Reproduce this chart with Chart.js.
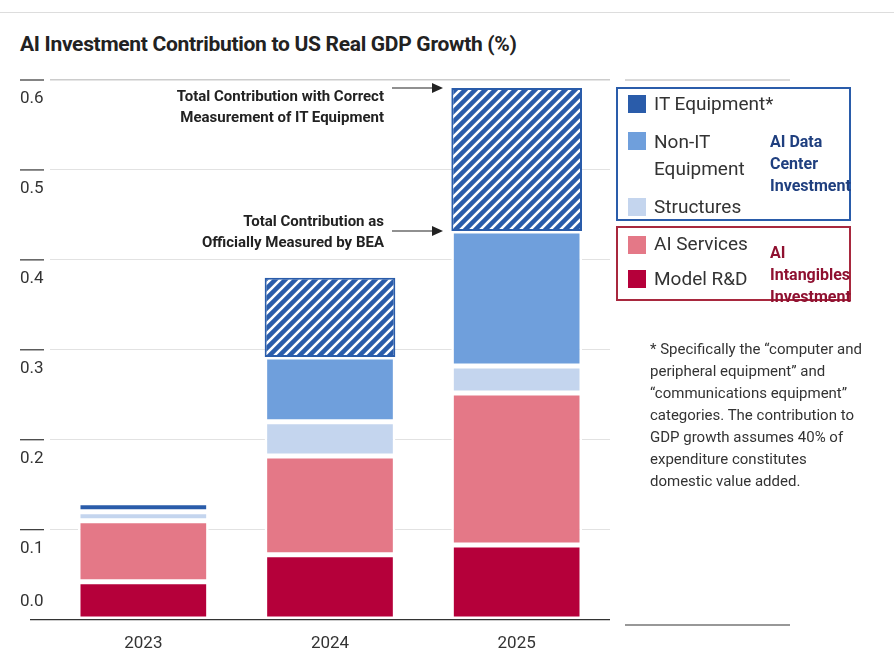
<!DOCTYPE html>
<html>
<head>
<meta charset="utf-8">
<script src="https://cdn.jsdelivr.net/npm/chart.js@4.4.1/dist/chart.umd.min.js"></script>
<style>
  body { margin: 0; background: #fff; font-family: 'Liberation Sans Narrow', Roboto, sans-serif; color: #222; }
  #wrap { position: relative; width: 894px; height: 660px; }
  #topline { position: absolute; left: 0; top: 12px; width: 894px; height: 1px; background: #ddd; }
  h1 { position: absolute; left: 20px; top: 32px; margin: 0; font-size: 21px; font-weight: bold; letter-spacing: -0.3px; }
  #chartBox { position: absolute; left: 0; top: 60px; width: 620px; height: 600px; }
  .note { position: absolute; font-size: 15px; font-weight: bold; text-align: right; line-height: 21px; }
  .leg { position: absolute; left: 616px; width: 235px; box-sizing: border-box; border: 2px solid #2a5caa; }
  .item { position: absolute; left: 10px; font-size: 19px; color: #333; line-height: 27px; }
  .sw { position: absolute; left: 10px; width: 18px; height: 18px; }
  .grp { position: absolute; left: 152px; font-size: 16px; font-weight: bold; line-height: 22px; }
  #foot { position: absolute; left: 650px; top: 338px; width: 220px; font-size: 15px; line-height: 22px; color: #333; }
  svg { position: absolute; left: 0; top: 0; }
</style>
</head>
<body>
<div id="wrap">
  <div id="topline"></div>
  <h1>AI Investment Contribution to US Real GDP Growth (%)</h1>
  <div id="chartBox"><canvas id="c"></canvas></div>
  <div class="note" style="right:510px; top:86px;">Total Contribution with Correct<br>Measurement of IT Equipment</div>
  <div class="note" style="right:510px; top:211px;">Total Contribution as<br>Officially Measured by BEA</div>
  <svg width="894" height="660">
    <line x1="625" y1="80" x2="790" y2="80" stroke="#ccc" stroke-width="1.5"/>
    <line x1="625" y1="625" x2="790" y2="625" stroke="#333" stroke-width="1.2"/>
    <polyline points="392,88 432,88" stroke="#222" fill="none" stroke-width="1.2"/>
    <polygon points="443,88 432,83 432,93" fill="#222"/>
    <polyline points="392,231 432,231" stroke="#222" fill="none" stroke-width="1.2"/>
    <polygon points="443,231 432,226 432,236" fill="#222"/>
  </svg>
  <div class="leg" style="top:87px; height:134px;">
    <div class="sw" style="top:6px; background:#2a5caa"></div><div class="item" style="left:36px; top:1px;">IT Equipment*</div>
    <div class="sw" style="top:43px; background:#6f9fdc"></div><div class="item" style="left:36px; top:39px;">Non-IT<br>Equipment</div>
    <div class="sw" style="top:109px; background:#c4d5ee"></div><div class="item" style="left:36px; top:104px;">Structures</div>
    <div class="grp" style="top:42px; color:#1f3f7f">AI Data Center<br>Investment</div>
  </div>
  <div class="leg" style="top:226px; height:75px; border-color:#a8283e;">
    <div class="sw" style="top:8px; background:#e47887"></div><div class="item" style="left:36px; top:2px;">AI Services</div>
    <div class="sw" style="top:42px; background:#b5003a"></div><div class="item" style="left:36px; top:37px;">Model R&amp;D</div>
    <div class="grp" style="top:14px; color:#8f1030">AI Intangibles<br>Investment</div>
  </div>
  <div id="foot">* Specifically the “computer and peripheral equipment” and “communications equipment” categories. The contribution to GDP growth assumes 40% of expenditure constitutes domestic value added.</div>
</div>
<script>
const years = ['2023', '2024', '2025'];
const modelRD = [0.042, 0.072, 0.083];
const aiServices = [0.068, 0.110, 0.169];
const structures = [0.010, 0.038, 0.030];
const nonIT = [0.000, 0.072, 0.150];
const itEquipment = [0.010, 0.088, 0.159];
const yTicks = [0, 0.1, 0.2, 0.3, 0.4, 0.5, 0.6];

// hatched fill for IT equipment (only where correctly measured)
function hatch() {
  const p = document.createElement('canvas');
  p.width = 10; p.height = 10;
  const g = p.getContext('2d');
  g.fillStyle = '#2a5caa';
  g.fillRect(0, 0, 10, 10);
  g.strokeStyle = '#fff';
  g.lineWidth = 2.6;
  g.beginPath();
  g.moveTo(-2, 12); g.lineTo(12, -2);
  g.moveTo(-7, 7); g.lineTo(7, -7);
  g.moveTo(3, 17); g.lineTo(17, 3);
  g.stroke();
  return g.createPattern(p, 'repeat');
}
const hatchFill = hatch();

const ds = (label, data, color) => ({
  label, data, backgroundColor: color, borderColor: '#fff', borderWidth: 2.5,
  borderSkipped: false, barPercentage: 0.7, categoryPercentage: 1
});
const itSet = ds('IT Equipment', itEquipment, itEquipment.map((v, i) => i === 0 ? '#2a5caa' : hatchFill));
itSet.borderColor = itEquipment.map((v, i) => i === 0 ? '#fff' : '#2a5caa');
itSet.borderWidth = itEquipment.map((v, i) => i === 0 ? 2.5 : 2);

const yLabels = {
  id: 'yLabels',
  afterDraw(chart) {
    const { ctx, scales: { y }, chartArea } = chart;
    ctx.save();
    ctx.font = '17px "Liberation Sans Narrow", Roboto, sans-serif';
    ctx.fillStyle = '#333';
    ctx.textBaseline = 'middle';
    ctx.strokeStyle = '#333';
    ctx.lineWidth = 1.2;
    yTicks.forEach(v => {
      const py = y.getPixelForValue(v);
      if (v > 0) {
        ctx.beginPath(); ctx.moveTo(20, py); ctx.lineTo(44, py); ctx.stroke();
      }
      ctx.fillText(v.toFixed(1), 20, v === 0 ? py - 18 : py + 19);
    });
    ctx.beginPath(); ctx.moveTo(30, y.getPixelForValue(0)); ctx.lineTo(chartArea.right, y.getPixelForValue(0)); ctx.stroke();
    ctx.restore();
  }
};

new Chart(document.getElementById('c'), {
  type: 'bar',
  data: {
    labels: years,
    datasets: [
      ds('Model R&D', modelRD, '#b5003a'),
      ds('AI Services', aiServices, '#e47887'),
      ds('Structures', structures, '#c4d5ee'),
      ds('Non-IT Equipment', nonIT, '#6f9fdc'),
      itSet
    ]
  },
  options: {
    responsive: true,
    maintainAspectRatio: false,
    animation: false,
    layout: { padding: { left: 50, right: 10, top: 20, bottom: 0 } },
    plugins: { legend: { display: false }, tooltip: { enabled: false } },
    scales: {
      x: {
        stacked: true,
        grid: { display: false },
        border: { display: false },
        ticks: { color: '#333', font: { size: 17, family: '"Liberation Sans Narrow", Roboto, sans-serif' }, padding: 6 }
      },
      y: {
        stacked: true, min: 0, max: 0.6,
        afterBuildTicks: s => { s.ticks = yTicks.map(v => ({ value: v })); },
        ticks: { display: false },
        border: { display: false },
        grid: {
          color: ctx => ctx.tick && ctx.tick.value === 0.6 ? '#ccc' : '#e2e2e2',
          lineWidth: ctx => ctx.tick && ctx.tick.value === 0.6 ? 1.5 : 1,
          drawTicks: false
        }
      }
    }
  },
  plugins: [yLabels, {
    id: 'dash',
    beforeDraw(chart) { chart.ctx.setLineDash([]); }
  }]
});
</script>
</body>
</html>
